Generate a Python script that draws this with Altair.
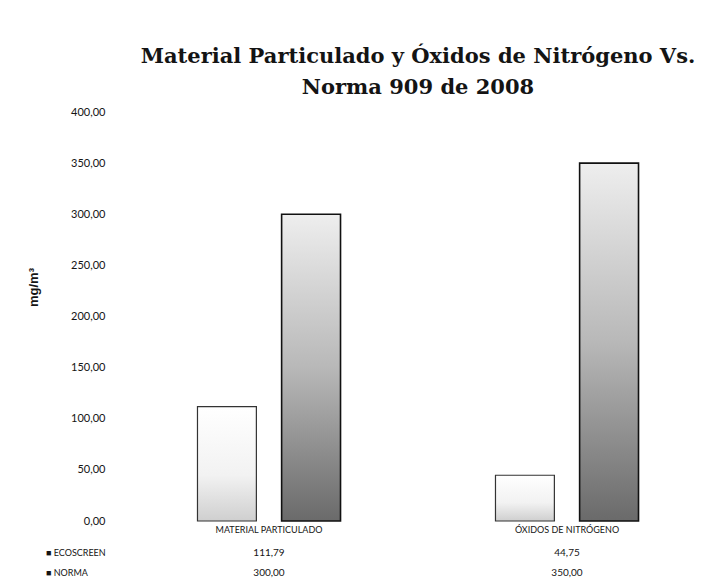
import altair as alt
import pandas as pd

categories = ["MATERIAL PARTICULADO", "ÓXIDOS DE NITRÓGENO"]
series = ["ECOSCREEN", "NORMA"]
medicion = [111.79, 44.75]
norma = [300.00, 350.00]
y_ticks = [0, 50, 100, 150, 200, 250, 300, 350, 400]

rows = []
for c, m, n in zip(categories, medicion, norma):
    rows.append({"category": c, "series": series[0], "value": m})
    rows.append({"category": c, "series": series[1], "value": n})
df = pd.DataFrame(rows)

W, H = 596, 409
ink = "#141414"
font = "Lato"
fmt = "replace(format(datum.value, '.2f'), '.', ',')"

x_enc = alt.X(
    "category:N", sort=categories,
    scale=alt.Scale(paddingInner=0.52, paddingOuter=0.26),
    axis=alt.Axis(title=None, labelAngle=0, domain=False, ticks=False,
                  labelPadding=4, labelFont=font,
                  labelFontSize=9, labelColor=ink),
)
xo_enc = alt.XOffset("series:N", sort=series,
                     scale=alt.Scale(domain=series, paddingInner=0.3, paddingOuter=0))
y_enc = alt.Y(
    "value:Q", scale=alt.Scale(domain=[0, 400], nice=False),
    axis=alt.Axis(values=y_ticks, labelExpr=fmt, grid=False, domain=False, ticks=False,
                  labelPadding=15, labelFont=font, labelFontSize=11,
                  labelColor=ink, title="mg/m³", titleFont="Liberation Sans",
                  titleFontSize=13, titleFontWeight="bold", titleColor=ink,
                  titleX=-80, titleY=175, titleAlign="center"),
)

base = alt.Chart(df).encode(x=x_enc, xOffset=xo_enc, y=y_enc)

grad_light = alt.Gradient(
    gradient="linear", x1=0, x2=0, y1=0, y2=1,
    stops=[alt.GradientStop(offset=0, color="#ffffff"),
           alt.GradientStop(offset=0.6, color="#f2f2f2"),
           alt.GradientStop(offset=1, color="#cfcfcf")],
)
grad_dark = alt.Gradient(
    gradient="linear", x1=0, x2=0, y1=0, y2=1,
    stops=[alt.GradientStop(offset=0, color="#eeeeee"),
           alt.GradientStop(offset=0.5, color="#b8b8b8"),
           alt.GradientStop(offset=1, color="#6a6a6a")],
)

bars_m = base.transform_filter(alt.datum.series == series[0]).mark_bar(
    fill=grad_light, stroke="#333333", strokeWidth=1.2)
bars_n = base.transform_filter(alt.datum.series == series[1]).mark_bar(
    fill=grad_dark, stroke="#111111", strokeWidth=1.6)

tbl = alt.Chart(df).transform_calculate(
    label="replace(format(datum.value, '.2f'), '.', ',')")
row_m = tbl.transform_filter(alt.datum.series == series[0]).mark_text(
    font=font, fontSize=10, color=ink).encode(
    x=alt.X("category:N", sort=categories), y=alt.value(H + 32), text="label:N")
row_n = tbl.transform_filter(alt.datum.series == series[1]).mark_text(
    font=font, fontSize=10, color=ink).encode(
    x=alt.X("category:N", sort=categories), y=alt.value(H + 52), text="label:N")

names = pd.DataFrame({"series": series, "name": ["■ " + s for s in series]})
lab_m = alt.Chart(names).transform_filter(alt.datum.series == series[0]).mark_text(
    font=font, fontSize=9, color=ink, align="left").encode(
    x=alt.value(-74), y=alt.value(H + 32), text="name:N")
lab_n = alt.Chart(names).transform_filter(alt.datum.series == series[1]).mark_text(
    font=font, fontSize=9, color=ink, align="left").encode(
    x=alt.value(-74), y=alt.value(H + 52), text="name:N")

chart = alt.layer(bars_m, bars_n, row_m, row_n, lab_m, lab_n).properties(
    width=W, height=H,
    background="white",
    autosize=alt.AutoSizeParams(type="none"),
    padding={"left": 112, "top": 104, "right": 3, "bottom": 58},
    title=alt.TitleParams(
        text=["Material Particulado y Óxidos de Nitrógeno Vs.", "Norma 909 de 2008"],
        font="DejaVu Serif", fontSize=21, fontWeight="bold", color=ink,
        anchor="middle", frame="group", lineHeight=31, offset=8),
).configure_view(strokeWidth=0, stroke="transparent")

chart.save("out.html", embed_options={"renderer": "svg", "actions": False})
